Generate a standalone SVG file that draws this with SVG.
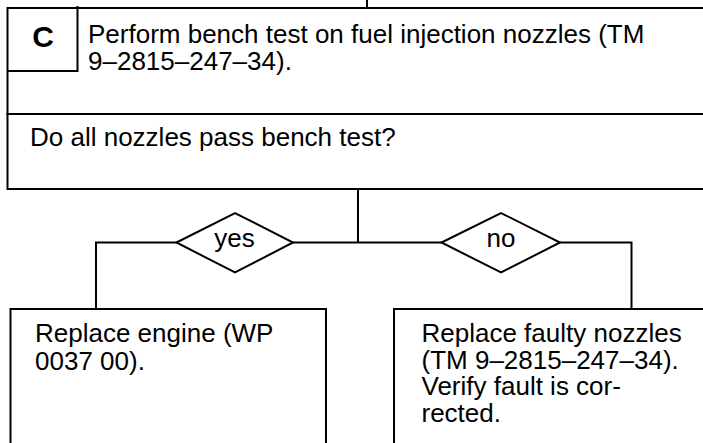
<svg xmlns="http://www.w3.org/2000/svg" width="703" height="443" viewBox="0 0 703 443">
  <style>
    .box { fill: #ffffff; stroke: #000000; stroke-width: 2; }
    .wire { fill: none; stroke: #000000; stroke-width: 2; }
    .dia { fill: #ffffff; stroke: #000000; stroke-width: 2; }
    .t { font-family: "Liberation Sans", Arial, Helvetica, sans-serif; font-size: 26px; fill: #000000; }
    .c { text-anchor: middle; }
    .step { font-family: "Liberation Sans", Arial, Helvetica, sans-serif; font-size: 30px; font-weight: bold; fill: #000000; text-anchor: middle; }
  </style>

  <g id="connectors">
    <line class="wire" x1="367" y1="0" x2="367" y2="8"/>
    <line class="wire" x1="358" y1="189" x2="358" y2="242.5"/>
    <polyline class="wire" points="441.5,242.5 96,242.5 96,309"/>
    <polyline class="wire" points="560,242.5 631.5,242.5 631.5,309"/>
  </g>

  <g id="step-c">
    <rect class="box" x="7.5" y="8" width="720" height="106"/>
    <polyline class="wire" points="7.5,71 77.5,71 77.5,6"/>
    <text class="step" x="43" y="46.5">C</text>
    <text class="t" x="88" y="43">Perform bench test on fuel injection nozzles (TM</text>
    <text class="t" x="88" y="70">9–2815–247–34).</text>
  </g>

  <g id="question">
    <rect class="box" x="7.5" y="114" width="720" height="75"/>
    <text class="t" x="30" y="146">Do all nozzles pass bench test?</text>
  </g>

  <g id="yes">
    <polygon class="dia" points="176.5,242.5 235,213 293,242.5 235,272.5"/>
    <text class="t c" x="234.5" y="247">yes</text>
  </g>

  <g id="no">
    <polygon class="dia" points="441.5,242.5 501,213 560,242.5 501,272.5"/>
    <text class="t c" x="501" y="247">no</text>
  </g>

  <g id="replace-engine">
    <rect class="box" x="10.5" y="309" width="315.5" height="160"/>
    <text class="t" x="35" y="342">Replace engine (WP</text>
    <text class="t" x="35" y="370">0037 00).</text>
  </g>

  <g id="replace-nozzles">
    <rect class="box" x="394" y="309" width="340" height="160"/>
    <text class="t" x="421.5" y="342">Replace faulty nozzles</text>
    <text class="t" x="421.5" y="368.5">(TM 9–2815–247–34).</text>
    <text class="t" x="421.5" y="395">Verify fault is cor-</text>
    <text class="t" x="421.5" y="421.5">rected.</text>
  </g>
</svg>
